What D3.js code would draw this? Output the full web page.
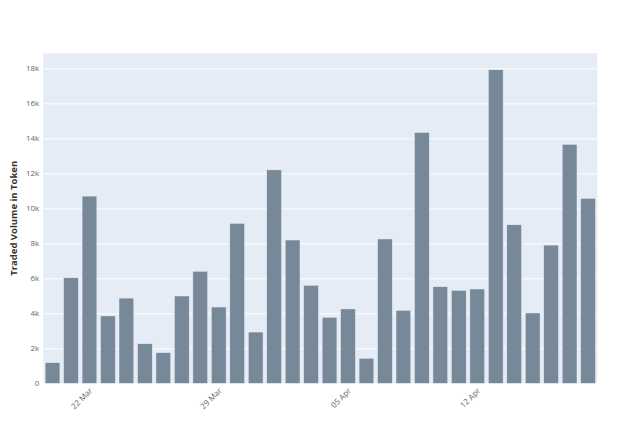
<!DOCTYPE html>
<html><head><meta charset="utf-8">
<script src="https://cdn.jsdelivr.net/npm/d3@7"></script>
<style>body{margin:0;background:#fff}svg{display:block}</style>
</head><body>
<script>
const startDate = "2021-03-20";
const volumes = [1180, 6030, 10700, 3850, 4870, 2260, 1750, 4990, 6400, 4360,
  9140, 2930, 12200, 8190, 5600, 3770, 4250, 1430, 8250, 4170,
  14340, 5520, 5310, 5390, 17920, 9060, 4020, 7900, 13660, 10570];
const yTicks = [0, 2000, 4000, 6000, 8000, 10000, 12000, 14000, 16000, 18000];
const xTickLabels = ["22 Mar", "29 Mar", "05 Apr", "12 Apr"];
const yTitle = "Traded Volume in Token";

const parse = d3.utcParse("%Y-%m-%d");
const d0 = parse(startDate);
const dates = volumes.map((v, i) => d3.utcDay.offset(d0, i));
const data = dates.map((d, i) => ({date: d, value: volumes[i]}));

const W = 640, H = 427;
const m = {l: 43.3, r: 640 - 597.3, t: 53.3, b: 427 - 383.3};
const svg = d3.select("body").append("svg").attr("width", W).attr("height", H)
  .style("font-family", "'Open Sans', sans-serif");

const x = d3.scaleTime()
  .domain([d3.utcHour.offset(dates[0], -12), d3.utcHour.offset(dates[dates.length - 1], 12)])
  .range([m.l, W - m.r]);
const y = d3.scaleLinear().domain([0, d3.max(volumes) / 0.95]).range([H - m.b, m.t]);

svg.append("rect").attr("x", m.l).attr("y", m.t).attr("width", W - m.r - m.l).attr("height", H - m.b - m.t).attr("fill", "#E5ECF6");

const gy = svg.append("g").attr("transform", `translate(${m.l},0)`)
  .call(d3.axisLeft(y).tickValues(yTicks).tickFormat(d => d === 0 ? "0" : (d / 1000) + "k").tickSize(0).tickPadding(4));
gy.select(".domain").remove();
gy.selectAll(".tick line").clone().attr("x2", W - m.r - m.l).attr("stroke", "#fff").attr("stroke-width", 1);
gy.selectAll(".tick text").attr("fill", "#666").attr("font-size", 8).attr("font-family", "'Open Sans', sans-serif");

const dayW = x(dates[1]) - x(dates[0]);
const bw = dayW * 0.8;
svg.append("g").selectAll("rect").data(data).join("rect")
  .attr("x", d => x(d.date) - bw / 2)
  .attr("width", bw)
  .attr("y", d => y(d.value))
  .attr("height", d => y(0) - y(d.value))
  .attr("fill", "#778899")
  .attr("stroke", "#E5ECF6").attr("stroke-width", 0.5);

const fmt = d3.utcFormat("%d %b");
const tickDates = dates.filter(d => xTickLabels.includes(fmt(d)));
const gx = svg.append("g").attr("transform", `translate(0,${H - m.b})`)
  .call(d3.axisBottom(x).tickValues(tickDates).tickFormat(fmt).tickSize(0).tickPadding(0));
gx.select(".domain").remove();
gx.selectAll(".tick text")
  .attr("fill", "#666").attr("font-size", 8).attr("font-family", "'Open Sans', sans-serif")
  .attr("text-anchor", "end").attr("dy", 0)
  .attr("transform", "translate(3,8) rotate(-45)");

svg.append("text")
  .attr("transform", `translate(17,${(m.t + H - m.b) / 2}) rotate(-90)`)
  .attr("text-anchor", "middle")
  .attr("font-size", 9.5).attr("font-weight", "bold").attr("fill", "#333")
  .text(yTitle);
</script>
</body></html>
